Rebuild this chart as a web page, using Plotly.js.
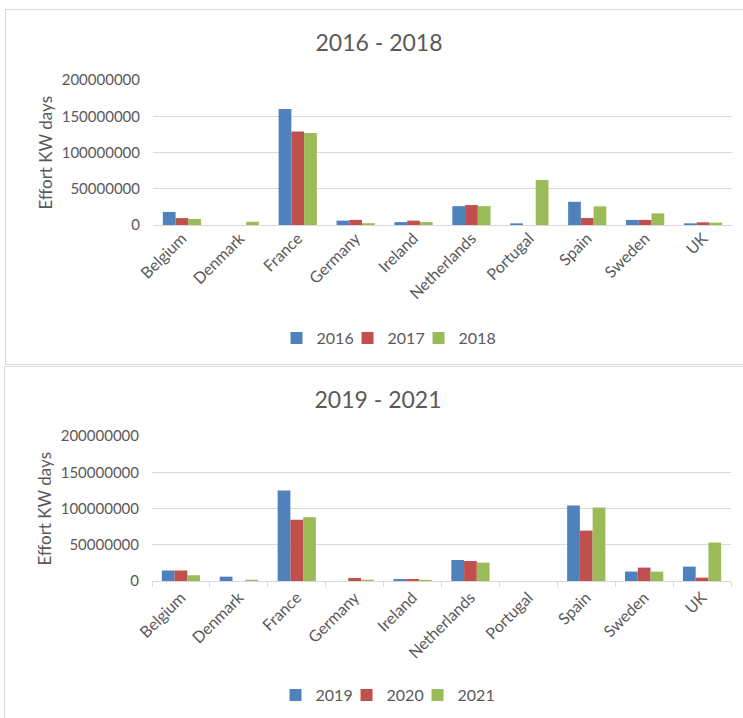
<!DOCTYPE html>
<html>
<head>
<meta charset="utf-8">
<script src="https://cdn.plot.ly/plotly-3.0.1.min.js"></script>
<style>
  html, body { margin: 0; padding: 0; background: #fff; overflow: hidden; width: 743px; height: 718px; }
  .panel { position: absolute; border: 1px solid #d9d9d9; box-sizing: border-box; background: #fff; }
  #top { left: 5px; top: 9px; width: 746px; height: 356px; }
  #bot { left: 4px; top: 366px; width: 747px; height: 360px; }
</style>
</head>
<body>
<div id="top" class="panel"></div>
<div id="bot" class="panel"></div>
<script>
const countries = ["Belgium", "Denmark", "France", "Germany", "Ireland", "Netherlands", "Portugal", "Spain", "Sweden", "UK"];

const years1 = ["2016", "2017", "2018"];
const v2016 = [18000000, 0, 160000000, 6000000, 4000000, 26000000, 2300000, 32000000, 7000000, 2300000];
const v2017 = [9500000, 0, 129000000, 7000000, 6000000, 27500000, 0, 9700000, 7000000, 3700000];
const v2018 = [8300000, 4500000, 127000000, 2500000, 4000000, 26000000, 62000000, 25700000, 16000000, 3200000];

const years2 = ["2019", "2020", "2021"];
const v2019 = [14500000, 6000000, 125000000, 0, 2700000, 29000000, 0, 104000000, 13000000, 19800000];
const v2020 = [14500000, 0, 84500000, 4200000, 2700000, 27600000, 0, 69500000, 18500000, 4600000];
const v2021 = [7900000, 1800000, 88000000, 1800000, 1500000, 25300000, 0, 101500000, 13000000, 53000000];

const yTicks = [0, 50000000, 100000000, 150000000, 200000000];
const yTickText = ["0", "50000000", "100000000", "150000000", "200000000"];

const colors = ["#4F81BD", "#C0504D", "#9BBB59"];
const FONT = "Lato, 'Open Sans', sans-serif";
const GREY = "#595959";

function traces(names, series) {
  const t = series.map((s, i) => ({
    type: "bar",
    name: names[i],
    x: countries,
    y: s,
    marker: { color: colors[i], line: { width: 0 } },
    hoverinfo: "skip"
  }));
  // invisible spacer legend entry so the last legend label is not clipped
  t.push({ type: "scatter", mode: "markers", name: " ", x: [countries[0]], y: [0], opacity: 0, marker: { color: "rgba(0,0,0,0)", size: 1 }, hoverinfo: "skip", showlegend: true });
  return t;
}

function layout(title, H, mt, mb, axisLine) {
  return {
    width: 746, height: H,
    margin: { l: 147, r: 20, t: mt, b: mb, pad: 0 },
    paper_bgcolor: "rgba(0,0,0,0)",
    plot_bgcolor: "rgba(0,0,0,0)",
    font: { family: FONT, color: GREY, size: 14 },
    title: { text: title, font: { family: FONT, size: 23, color: GREY }, xref: "container", x: 0.5, xanchor: "center", yref: "container", y: 1 - 33 / H, yanchor: "middle" },
    barmode: "group",
    bargap: 0.34,
    bargroupgap: 0,
    showlegend: true,
    legend: { orientation: "h", xref: "container", x: 0.553, xanchor: "center", yref: "container", y: 1 - 328 / H, yanchor: "middle", font: { family: FONT, size: 16, color: GREY }, itemwidth: 30, entrywidth: 26, entrywidthmode: "pixels", tracegroupgap: 0, traceorder: "normal" },
    xaxis: {
      type: "category",
      range: [-0.5, countries.length - 0.5],
      autorange: false,
      tickangle: -45,
      tickfont: { family: FONT, size: 16, color: GREY },
      showgrid: false,
      zeroline: false,
      showline: axisLine,
      linecolor: "#d9d9d9",
      linewidth: 1,
      ticks: axisLine ? "outside" : "",
      tickson: "boundaries",
      ticklen: 5,
      tickcolor: "#d9d9d9",
      fixedrange: true
    },
    yaxis: {
      range: [0, 200000000],
      autorange: false,
      tickvals: yTicks,
      ticktext: yTickText,
      tickfont: { family: FONT, size: 15, color: GREY },
      showgrid: true,
      gridcolor: "#d9d9d9",
      gridwidth: 1,
      zeroline: true,
      zerolinecolor: "#d9d9d9",
      zerolinewidth: 1,
      showline: false,
      ticks: "",
      ticklabelstandoff: 12,
      fixedrange: true
    },
    annotations: [{
      text: "Effort KW days", textangle: -90, showarrow: false,
      xref: "paper", yref: "paper", x: -(147 - 39) / 579, y: 0.5,
      xanchor: "center", yanchor: "middle",
      font: { family: FONT, size: 17, color: GREY }
    }]
  };
}

Plotly.newPlot("top", traces(years1, [v2016, v2017, v2018]), layout("2016 - 2018", 356, 70, 356 - 215, false), { staticPlot: true, displayModeBar: false });
Plotly.newPlot("bot", traces(years2, [v2019, v2020, v2021]), layout("2019 - 2021", 360, 69, 360 - 214, true), { staticPlot: true, displayModeBar: false });
</script>
</body>
</html>
